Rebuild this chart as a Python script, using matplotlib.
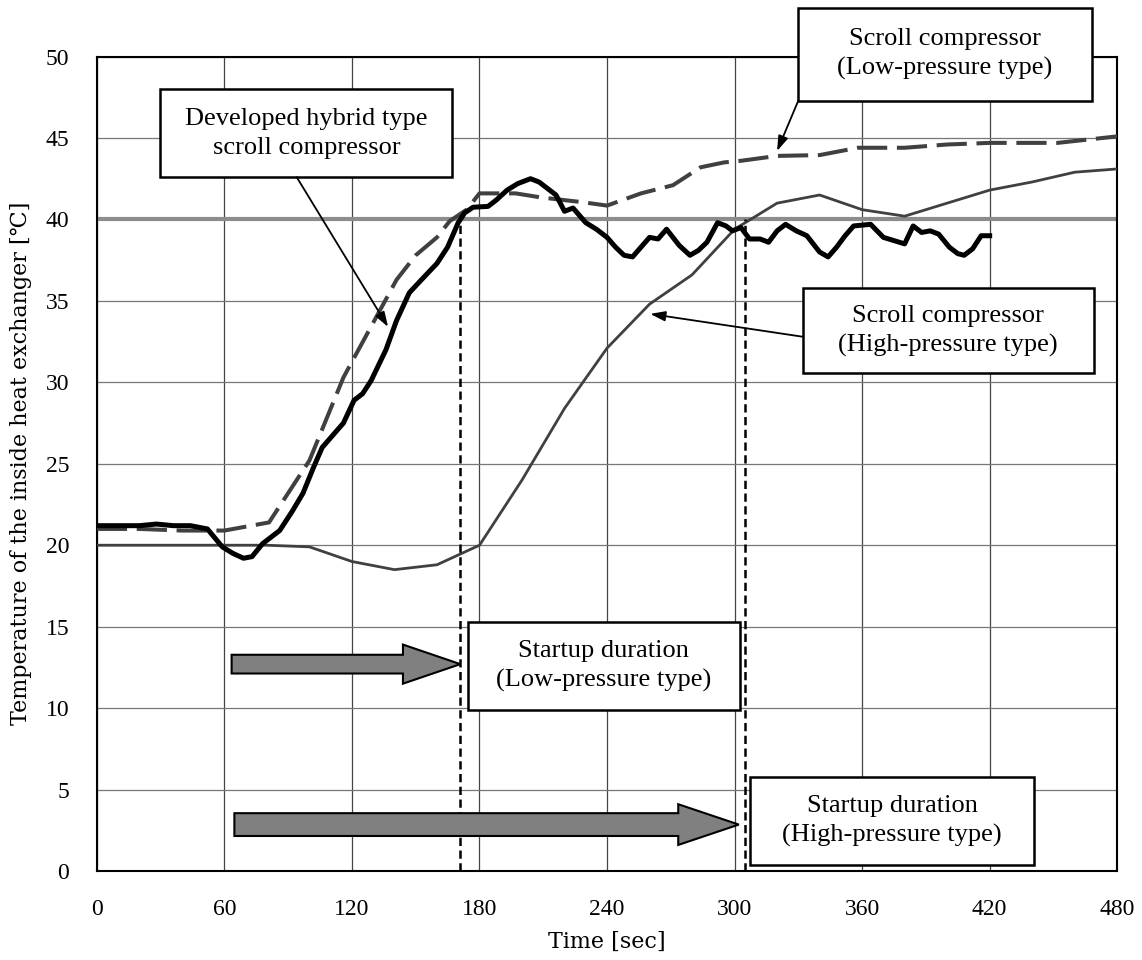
import matplotlib
matplotlib.use("Agg")
import matplotlib.pyplot as plt
from matplotlib.patches import Rectangle, FancyArrow

# Developed hybrid type scroll compressor (thick black)
t_dev = [0, 10, 20, 28, 36, 44, 52, 59, 64, 69, 73, 78, 86, 92, 97, 102, 106, 112, 116, 121,
         125, 129, 136, 141, 147, 152, 160, 165, 170, 173, 177, 184, 188, 193, 198, 204, 208, 212,
         216, 220, 224, 230, 235, 240, 244, 248, 252, 256, 260, 264, 268, 274, 279, 283, 287, 292,
         296, 299, 303, 307, 312, 316, 320, 324, 329, 334, 340, 344, 348, 352, 356, 364, 370, 375,
         380, 384, 388, 392, 396, 401, 405, 408, 412, 416, 420]
y_dev = [21.2, 21.2, 21.2, 21.3, 21.2, 21.2, 21.0, 19.9, 19.5, 19.2, 19.3, 20.1, 20.9, 22.1, 23.2,
         24.8, 26.0, 26.9, 27.5, 28.9, 29.3, 30.1, 32.0, 33.8, 35.5, 36.2, 37.3, 38.3, 39.8, 40.4,
         40.75, 40.8, 41.2, 41.8, 42.2, 42.5, 42.3, 41.9, 41.5, 40.5, 40.7, 39.8, 39.4, 38.9, 38.3,
         37.8, 37.7, 38.3, 38.9, 38.8, 39.4, 38.4, 37.8, 38.1, 38.6, 39.8, 39.6, 39.3, 39.5, 38.8,
         38.8, 38.6, 39.3, 39.7, 39.3, 39.0, 38.0, 37.7, 38.3, 39.0, 39.6, 39.7, 38.9, 38.7, 38.5,
         39.6, 39.2, 39.3, 39.1, 38.3, 37.9, 37.8, 38.2, 39.0, 39.0]

# Scroll compressor, low-pressure type (dashed)
t_low = [0, 20, 40, 60, 81, 100, 116, 141, 150, 160, 166, 174, 180, 197, 209, 229, 240, 256, 271,
         284, 295, 303, 320, 340, 358, 380, 400, 420, 452, 480]
y_low = [21.0, 21.0, 20.9, 20.9, 21.4, 25.2, 30.3, 36.3, 37.8, 38.9, 39.9, 40.6, 41.6, 41.6, 41.35,
         41.05, 40.85, 41.6, 42.1, 43.2, 43.5, 43.6, 43.9, 43.95, 44.4, 44.4, 44.6, 44.7, 44.7, 45.1]

# Scroll compressor, high-pressure type (thin)
t_high = [0, 20, 40, 60, 80, 100, 120, 140, 160, 180, 200, 220, 240, 260, 280, 300, 320, 340,
          360, 380, 400, 420, 440, 460, 480]
y_high = [20.0, 20.0, 20.0, 20.0, 20.0, 19.9, 19.0, 18.5, 18.8, 20.0, 24.0, 28.4, 32.1, 34.8,
          36.6, 39.4, 41.0, 41.5, 40.6, 40.2, 41.0, 41.8, 42.3, 42.9, 43.1]

target_temp = 40
startup_low = 171
startup_high = 304.7

x_ticks = [0, 60, 120, 180, 240, 300, 360, 420, 480]
y_ticks = [0, 5, 10, 15, 20, 25, 30, 35, 40, 45, 50]

serif = ["Liberation Serif", "DejaVu Serif"]
label_font = ["DejaVu Serif", "DejaVu Sans", "Noto Sans CJK JP"]

fig = plt.figure(figsize=(11.42, 9.6), dpi=100)
ax = fig.add_axes([0.0848, 0.0927, 0.8935, 0.8484])

ax.set_xlim(0, 480)
ax.set_ylim(0, 50)
ax.set_xticks(x_ticks)
ax.set_yticks(y_ticks)
ax.set_xticklabels([str(v) for v in x_ticks], family=serif, fontsize=17)
ax.set_yticklabels([str(v) for v in y_ticks], family=serif, fontsize=17)
ax.tick_params(direction="in", length=0, pad=20)
ax.xaxis.grid(True, color="#444444", lw=0.9, zorder=0)
ax.yaxis.grid(True, color="#777777", lw=0.9, zorder=0)
ax.set_axisbelow(True)
for s in ax.spines.values():
    s.set_linewidth(1.5)

ax.set_xlabel("Time [sec]", family=label_font, fontsize=16, labelpad=8)
ax.set_ylabel("Temperature of the inside heat exchanger [\u2103]", family=label_font, fontsize=16,
              labelpad=10)

ax.axhline(target_temp, color="#8c8c8c", lw=3, zorder=1.5)

ax.plot(t_high, y_high, color="#404040", lw=2.0, zorder=3)
ax.plot(t_low, y_low, color="#404040", lw=2.9, dashes=(7.5, 2.4), zorder=3)
ax.plot(t_dev, y_dev, color="black", lw=3.6, zorder=4)

ax.vlines([startup_low, startup_high], 0, target_temp, colors="black", lw=1.8,
          linestyles=(0, (3.3, 1.8)), zorder=4)

# block arrows for startup durations
ax.add_patch(FancyArrow(63.4, 12.7, 171 - 63.4, 0, width=1.15, head_width=2.4, head_length=27,
                        length_includes_head=True, fc="#808080", ec="black", lw=1.5, zorder=5))
ax.add_patch(FancyArrow(64.7, 2.85, 302 - 64.7, 0, width=1.4, head_width=2.5, head_length=28.5,
                        length_includes_head=True, fc="#808080", ec="black", lw=1.5, zorder=5))

# annotation boxes
boxes = [
    (29.8, 42.6, 167.3, 48.0, "Developed hybrid type\nscroll compressor"),
    (330, 47.3, 468, 53.0, "Scroll compressor\n(Low-pressure type)"),
    (332, 30.55, 469, 35.8, "Scroll compressor\n(High-pressure type)"),
    (174.4, 9.9, 302.5, 15.3, "Startup duration\n(Low-pressure type)"),
    (307.4, 0.37, 441, 5.75, "Startup duration\n(High-pressure type)"),
]
for x0, y0, x1, y1, txt in boxes:
    ax.add_patch(Rectangle((x0, y0), x1 - x0, y1 - y0, fc="white", ec="black", lw=1.8,
                           zorder=6, clip_on=False))
    ax.text((x0 + x1) / 2, (y0 + y1) / 2, txt, ha="center", va="center", family=serif,
            fontsize=19, linespacing=1.4, zorder=7)

arrow_kw = dict(arrowstyle="-|>,head_length=0.9,head_width=0.3", color="black", lw=1.3,
                shrinkA=0, shrinkB=0)
ax.annotate("", xy=(137, 33.4), xytext=(94, 42.6), arrowprops=arrow_kw, zorder=6)
ax.annotate("", xy=(320, 44.2), xytext=(330, 47.3), arrowprops=arrow_kw, zorder=6)
ax.annotate("", xy=(260.3, 34.2), xytext=(332, 32.8), arrowprops=arrow_kw, zorder=6)

fig.savefig("out.png", dpi=100)
